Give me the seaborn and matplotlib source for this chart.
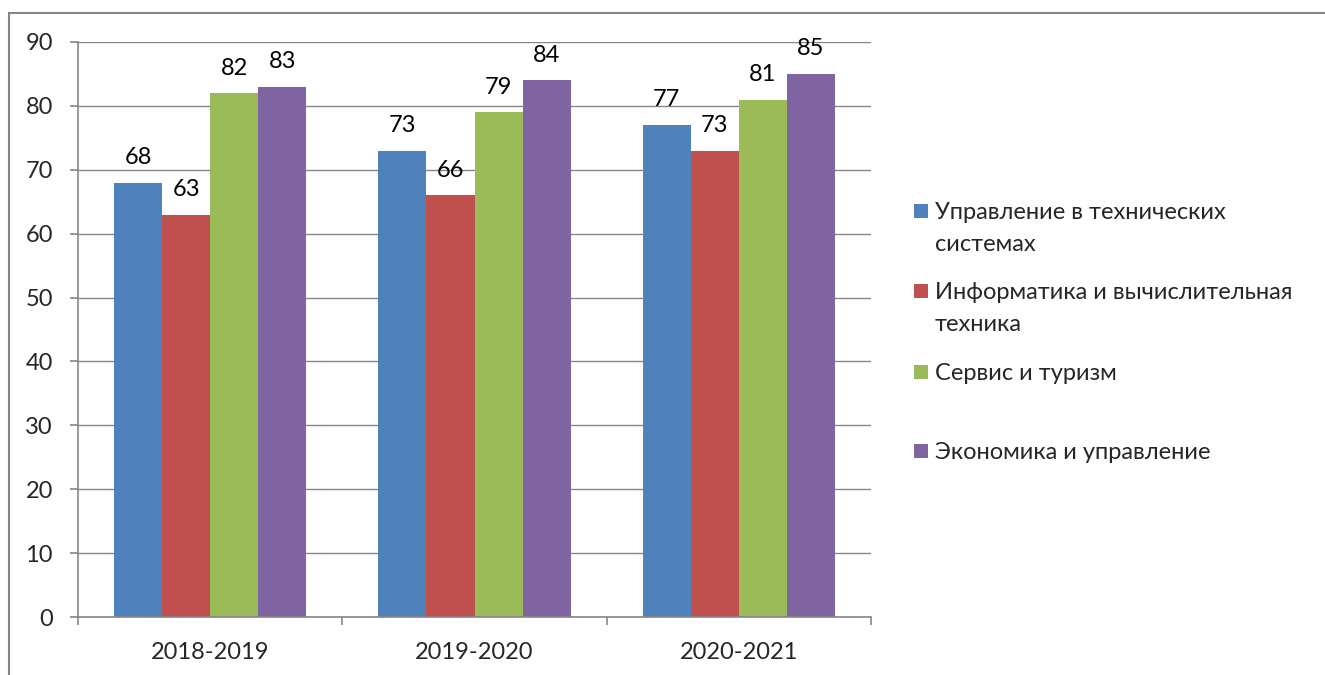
import pandas as pd
import matplotlib
matplotlib.use("Agg")
import matplotlib.pyplot as plt
import seaborn as sns
from matplotlib.patches import Rectangle
from matplotlib.lines import Line2D

# data
years = ["2018-2019", "2019-2020", "2020-2021"]
programs = [
    "Управление в технических\nсистемах",
    "Информатика и вычислительная\nтехника",
    "Сервис и туризм",
    "Экономика и управление",
]
upr_tech = [68, 73, 77]
inform = [63, 66, 73]
servis = [82, 79, 81]
econ = [83, 84, 85]
colors = ["#4F81BD", "#C0504D", "#9BBB59", "#8064A2"]

df = pd.DataFrame({
    "year": years * 4,
    "program": [p for p in programs for _ in years],
    "value": upr_tech + inform + servis + econ,
})

sns.set_theme(style="white")
plt.rcParams["font.family"] = ["Lato", "DejaVu Sans"]
fs = 17

W, H = 1325, 675
fig = plt.figure(figsize=(W / 100, H / 100), dpi=100)
ax = fig.add_axes([78 / W, 1 - 617 / H, (871 - 78) / W, (617 - 42) / H])

sns.barplot(data=df, x="year", y="value", hue="program", palette=colors,
            width=0.727, gap=0, saturation=1, legend=False, ax=ax,
            edgecolor="none", linewidth=0)

for cont in ax.containers:
    ax.bar_label(cont, fmt="%d", padding=10.5, fontsize=fs, color="black")

grey = "#868686"
ax.set_ylim(0, 90)
ax.set_xlim(-0.5, 2.5)
ax.set_yticks(range(0, 91, 10))
ax.yaxis.grid(True, color=grey, linewidth=1)
ax.set_axisbelow(True)
for s in ["top", "right"]:
    ax.spines[s].set_visible(False)
for s in ["left", "bottom"]:
    ax.spines[s].set_color(grey)
    ax.spines[s].set_linewidth(1.2)
ax.set_xlabel("")
ax.set_ylabel("")
ax.tick_params(axis="y", which="major", length=6, width=1.2, color=grey,
               pad=12, labelsize=fs, left=True)
ax.tick_params(axis="x", which="major", length=0, pad=18, labelsize=fs)
ax.set_xticks([-0.5, 0.5, 1.5, 2.5], minor=True)
ax.tick_params(axis="x", which="minor", length=6, width=1.2, color=grey,
               bottom=True, direction="out")

# legend to the right, Excel style: marker beside the first line of each label
leg_base = [219, 299, 380, 459]
line_step = 32
for lab, col, yb in zip(programs, colors, leg_base):
    fig.patches.append(Rectangle((914 / W, 1 - (yb - 1) / H), 14 / W, 14 / H,
                                 transform=fig.transFigure, facecolor=col,
                                 edgecolor="none"))
    for i, line in enumerate(lab.split("\n")):
        fig.text(935 / W, 1 - (yb + i * line_step) / H, line, fontsize=fs,
                 va="baseline", ha="left")

# chart frame (left and top edges visible in the crop)
fig.add_artist(Line2D([9 / W, 9 / W], [0, 1 - 13 / H], color=grey,
                      linewidth=1.5, transform=fig.transFigure))
fig.add_artist(Line2D([9 / W, 1], [1 - 13 / H, 1 - 13 / H], color=grey,
                      linewidth=1.5, transform=fig.transFigure))

fig.savefig("out.png", dpi=100)
